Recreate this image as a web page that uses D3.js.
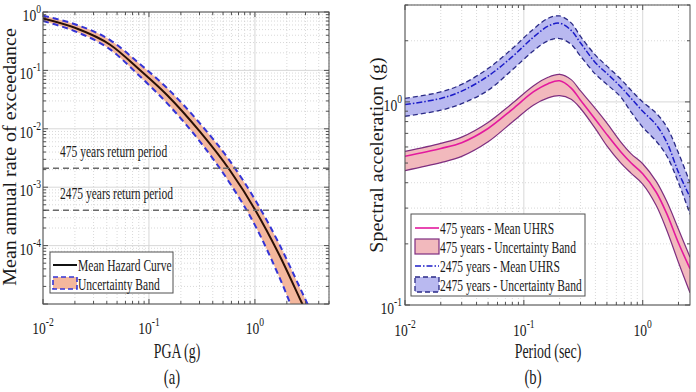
<!DOCTYPE html>
<html>
<head>
<meta charset="utf-8">
<script src="https://cdn.jsdelivr.net/npm/d3@7"></script>
<style>
body { margin: 0; background: #fff; }
text { font-family: "Liberation Serif", "Times New Roman", serif; fill: #1a1a1a; }
</style>
</head>
<body>
<svg width="696" height="392"></svg>
<script>
// ---- (a) hazard curve data ----
var pga      = [0.01, 0.02, 0.043, 0.082, 0.148, 0.3, 0.58, 1.0, 1.7, 2.8, 4.0];
var hazMean  = [0.776, 0.537, 0.275, 0.102, 0.038, 0.0091, 0.00195, 4.17e-4, 6.9e-5, 1.0e-5, 2.5e-6];
var hazUpper = [0.861, 0.617, 0.331, 0.129, 0.0501, 0.0126, 0.00282, 6.17e-4, 1.05e-4, 1.55e-5, 3.9e-6];
var hazLower = [0.700, 0.468, 0.229, 0.0794, 0.0275, 0.00617, 0.00117, 2.24e-4, 2.88e-5, 3.16e-6, 7.1e-7];
var returnRates  = [1 / 475, 1 / 2475];
var returnLabels = ["475 years return period", "2475 years return period"];
var legendA = ["Mean Hazard Curve", "Uncertainty Band"];

// ---- (b) UHRS data ----
var period = [0.01, 0.02, 0.03, 0.05, 0.08, 0.12, 0.16, 0.2, 0.25, 0.3, 0.4, 0.5, 0.65, 0.8, 1.0, 1.3, 1.6, 2.0, 2.5];
var mean475  = [0.54, 0.59, 0.63, 0.74, 0.92, 1.12, 1.23, 1.27, 1.17, 1.02, 0.82, 0.69, 0.57, 0.50, 0.443, 0.359, 0.280, 0.202, 0.151];
var upper475 = [0.570, 0.625, 0.671, 0.792, 0.984, 1.198, 1.322, 1.365, 1.287, 1.132, 0.927, 0.787, 0.638, 0.555, 0.496, 0.406, 0.322, 0.236, 0.172];
var lower475 = [0.459, 0.502, 0.539, 0.636, 0.796, 0.963, 1.046, 1.073, 1.030, 0.928, 0.738, 0.607, 0.502, 0.445, 0.394, 0.309, 0.232, 0.162, 0.115];
var mean2475  = [0.97, 1.04, 1.13, 1.34, 1.67, 2.08, 2.36, 2.44, 2.25, 1.95, 1.56, 1.38, 1.19, 1.04, 0.90, 0.77, 0.63, 0.45, 0.34];
var upper2475 = [1.04, 1.12, 1.22, 1.46, 1.83, 2.28, 2.58, 2.65, 2.45, 2.10, 1.70, 1.50, 1.30, 1.14, 1.00, 0.88, 0.75, 0.56, 0.40];
var lower2475 = [0.85, 0.91, 0.98, 1.14, 1.44, 1.78, 2.00, 2.05, 1.92, 1.68, 1.37, 1.22, 1.06, 0.89, 0.75, 0.64, 0.54, 0.40, 0.28];
var legendB = ["475 years - Mean UHRS", "475 years - Uncertainty Band", "2475 years - Mean UHRS", "2475 years - Uncertainty Band"];

var svg = d3.select("svg");

/*horizontal text in the figure is squeezed sideways*/
function txt(g, x, y, s, size, anchor, sq, rot) {
  var tr = rot ? "translate(" + x + "," + y + ") rotate(-90) scale(1," + sq + ")"
               : "translate(" + x + "," + y + ") scale(" + sq + ",1)";
  return g.append("text").attr("transform", tr)
    .attr("font-size", size).attr("text-anchor", anchor || "start").text(s);
}

function powLabel(g, x, y, e, anchor) {
  var t = g.append("text")
    .attr("transform", "translate(" + x + "," + y + ") scale(0.8,1)")
    .attr("font-size", 17).attr("text-anchor", anchor);
  t.append("tspan").text("10");
  t.append("tspan").attr("dy", -8).attr("font-size", 12).text(e);
}

function logTicks(dom) {
  var maj = [], min = [];
  for (var p = Math.floor(Math.log10(dom[0])); p <= Math.ceil(Math.log10(dom[1])); p++) {
    for (var k = 1; k < 10; k++) {
      var v = k * Math.pow(10, p);
      if (v < dom[0] * 0.999 || v > dom[1] * 1.001) continue;
      (k == 1 ? maj : min).push(v);
    }
  }
  return { maj: maj, min: min };
}

function frame(g, x, y, id) {
  var xr = x.range(), yr = y.range();
  var xt = logTicks(x.domain()), yt = logTicks(y.domain());

  // grid
  g.selectAll(null).data(xt.min).enter().append("line")
    .attr("x1", x).attr("x2", x).attr("y1", yr[0]).attr("y2", yr[1])
    .attr("stroke", "#c8c8c8").attr("stroke-width", 0.7).attr("stroke-dasharray", "1,2");
  g.selectAll(null).data(yt.min).enter().append("line")
    .attr("y1", y).attr("y2", y).attr("x1", xr[0]).attr("x2", xr[1])
    .attr("stroke", "#c8c8c8").attr("stroke-width", 0.7).attr("stroke-dasharray", "1,2");
  g.selectAll(null).data(xt.maj).enter().append("line")
    .attr("x1", x).attr("x2", x).attr("y1", yr[0]).attr("y2", yr[1])
    .attr("stroke", "#d4d4d4").attr("stroke-width", 0.9);
  g.selectAll(null).data(yt.maj).enter().append("line")
    .attr("y1", y).attr("y2", y).attr("x1", xr[0]).attr("x2", xr[1])
    .attr("stroke", "#d4d4d4").attr("stroke-width", 0.9);

  g.append("clipPath").attr("id", id).append("rect")
    .attr("x", xr[0]).attr("y", yr[1]).attr("width", xr[1] - xr[0]).attr("height", yr[0] - yr[1]);
}

function box(g, x, y) {
  var xr = x.range(), yr = y.range();
  var xt = logTicks(x.domain()), yt = logTicks(y.domain());
  var col = "#505050";
  g.append("rect").attr("x", xr[0]).attr("y", yr[1])
    .attr("width", xr[1] - xr[0]).attr("height", yr[0] - yr[1])
    .attr("fill", "none").attr("stroke", col).attr("stroke-width", 1);
  [[xt.maj, 5], [xt.min, 3]].forEach(function(a) {
    a[0].forEach(function(v) {
      g.append("line").attr("x1", x(v)).attr("x2", x(v)).attr("y1", yr[0]).attr("y2", yr[0] - a[1]).attr("stroke", col);
      g.append("line").attr("x1", x(v)).attr("x2", x(v)).attr("y1", yr[1]).attr("y2", yr[1] + a[1]).attr("stroke", col);
    });
  });
  [[yt.maj, 5], [yt.min, 3]].forEach(function(a) {
    a[0].forEach(function(v) {
      g.append("line").attr("y1", y(v)).attr("y2", y(v)).attr("x1", xr[0]).attr("x2", xr[0] + a[1]).attr("stroke", col);
      g.append("line").attr("y1", y(v)).attr("y2", y(v)).attr("x1", xr[1]).attr("x2", xr[1] - a[1]).attr("stroke", col);
    });
  });
}

// ================= (a) =================
var ga = svg.append("g");
var xa = d3.scaleLog().domain([0.01, 5]).range([43, 329]);
var ya = d3.scaleLog().domain([1e-5, 1]).range([304, 12]);
frame(ga, xa, ya, "clipA");

var plotA = ga.append("g").attr("clip-path", "url(#clipA)");
var haz = pga.map(function(d, i) { return { x: d, m: hazMean[i], u: hazUpper[i], l: hazLower[i] }; });
var curveA = d3.curveMonotoneX;

plotA.append("path").datum(haz)
  .attr("d", d3.area().curve(curveA)
    .x(function(d) { return xa(d.x); })
    .y0(function(d) { return ya(d.l); })
    .y1(function(d) { return ya(d.u); }))
  .attr("fill", "#f4b79d");

["u", "l"].forEach(function(k) {
  plotA.append("path").datum(haz)
    .attr("d", d3.line().curve(curveA)
      .x(function(d) { return xa(d.x); }).y(function(d) { return ya(d[k]); }))
    .attr("fill", "none").attr("stroke", "#3434d6").attr("stroke-width", 2)
    .attr("stroke-dasharray", "6,4");
});

plotA.append("path").datum(haz)
  .attr("d", d3.line().curve(curveA)
    .x(function(d) { return xa(d.x); }).y(function(d) { return ya(d.m); }))
  .attr("fill", "none").attr("stroke", "#2a1006").attr("stroke-width", 2);

returnRates.forEach(function(r, i) {
  ga.append("line").attr("x1", 43).attr("x2", 329).attr("y1", ya(r)).attr("y2", ya(r))
    .attr("stroke", "#6a6a6a").attr("stroke-width", 1.5).attr("stroke-dasharray", "6,4");
  txt(ga, 60, ya(r) - 11, returnLabels[i], 16, "start", 0.72);
});

box(ga, xa, ya);

[0.01, 0.1, 1].forEach(function(v) {
  powLabel(ga, xa(v), 334, String(Math.round(Math.log10(v))), "middle");
});
[1, 0.1, 0.01, 0.001, 0.0001].forEach(function(v) {
  powLabel(ga, 41, ya(v) + 9, String(Math.round(Math.log10(v))), "end");
});

txt(ga, 16, 157, "Mean annual rate of exceedance", 20, "middle", 0.95, true);
txt(ga, 177, 358, "PGA (g)", 21, "middle", 0.66);
txt(ga, 172, 384, "(a)", 21, "middle", 0.7);

// legend (a)
var la = ga.append("g");
la.append("rect").attr("x", 50).attr("y", 252).attr("width", 123).attr("height", 41)
  .attr("fill", "#fff").attr("stroke", "#505050");
la.append("line").attr("x1", 53).attr("x2", 77).attr("y1", 265).attr("y2", 265)
  .attr("stroke", "#111").attr("stroke-width", 2);
la.append("rect").attr("x", 53).attr("y", 277).attr("width", 24).attr("height", 12)
  .attr("fill", "#f4b79d").attr("stroke", "#3434d6").attr("stroke-width", 1.6).attr("stroke-dasharray", "5,3");
txt(la, 78, 271, legendA[0], 17, "start", 0.68);
txt(la, 78, 290, legendA[1], 17, "start", 0.68);

// ================= (b) =================
var gb = svg.append("g");
var xb = d3.scaleLog().domain([0.01, 2.5]).range([405, 690]);
var yb = d3.scaleLog().domain([0.1, 3]).range([305, 5]);
frame(gb, xb, yb, "clipB");

var plotB = gb.append("g").attr("clip-path", "url(#clipB)");
function rows(m, u, l) {
  return period.map(function(d, i) { return { x: d, m: m[i], u: u[i], l: l[i] }; });
}
var r2475 = rows(mean2475, upper2475, lower2475);
var r475 = rows(mean475, upper475, lower475);

var curveB = d3.curveCatmullRom.alpha(0.5);
var areaB = d3.area().curve(curveB)
  .x(function(d) { return xb(d.x); })
  .y0(function(d) { return yb(d.l); })
  .y1(function(d) { return yb(d.u); });
function lineB(k) {
  return d3.line().curve(curveB)
    .x(function(d) { return xb(d.x); }).y(function(d) { return yb(d[k]); });
}

plotB.append("path").datum(r2475).attr("d", areaB).attr("fill", "#b9b9f0");
["u", "l"].forEach(function(k) {
  plotB.append("path").datum(r2475).attr("d", lineB(k))
    .attr("fill", "none").attr("stroke", "#2a2a86").attr("stroke-width", 1.3).attr("stroke-dasharray", "5,3");
});
plotB.append("path").datum(r2475).attr("d", lineB("m"))
  .attr("fill", "none").attr("stroke", "#1c1cc8").attr("stroke-width", 1.5).attr("stroke-dasharray", "6,2,1.5,2");

plotB.append("path").datum(r475).attr("d", areaB).attr("fill", "#f2b9bd");
["u", "l"].forEach(function(k) {
  plotB.append("path").datum(r475).attr("d", lineB(k))
    .attr("fill", "none").attr("stroke", "#7e2e80").attr("stroke-width", 1.2);
});
plotB.append("path").datum(r475).attr("d", lineB("m"))
  .attr("fill", "none").attr("stroke", "#e3199e").attr("stroke-width", 1.6);

box(gb, xb, yb);

[0.01, 0.1, 1].forEach(function(v) {
  powLabel(gb, xb(v), 336, String(Math.round(Math.log10(v))), "middle");
});
[1, 0.1].forEach(function(v) {
  powLabel(gb, 402, yb(v) + 9, String(Math.round(Math.log10(v))), "end");
});

txt(gb, 383, 155, "Spectral acceleration (g)", 20, "middle", 0.9, true);
txt(gb, 548, 358, "Period (sec)", 21, "middle", 0.66);
txt(gb, 533, 384, "(b)", 21, "middle", 0.7);

// legend (b)
var lb = gb.append("g");
lb.append("rect").attr("x", 411).attr("y", 214).attr("width", 174).attr("height", 82)
  .attr("fill", "#fff").attr("stroke", "#505050");
var ly = [228, 247, 266, 285];
lb.append("line").attr("x1", 415).attr("x2", 439).attr("y1", ly[0]).attr("y2", ly[0])
  .attr("stroke", "#e3199e").attr("stroke-width", 1.6);
lb.append("rect").attr("x", 415).attr("y", ly[1] - 8).attr("width", 24).attr("height", 15)
  .attr("fill", "#f2b9bd").attr("stroke", "#7e2e80").attr("stroke-width", 1.2);
lb.append("line").attr("x1", 415).attr("x2", 439).attr("y1", ly[2]).attr("y2", ly[2])
  .attr("stroke", "#1c1cc8").attr("stroke-width", 1.5).attr("stroke-dasharray", "6,2,1.5,2");
lb.append("rect").attr("x", 415).attr("y", ly[3] - 8).attr("width", 24).attr("height", 15)
  .attr("fill", "#b9b9f0").attr("stroke", "#2a2a86").attr("stroke-width", 1.3).attr("stroke-dasharray", "5,3");
legendB.forEach(function(s, i) {
  txt(lb, 440, ly[i] + 6, s, 17, "start", 0.68);
});
</script>
</body>
</html>
